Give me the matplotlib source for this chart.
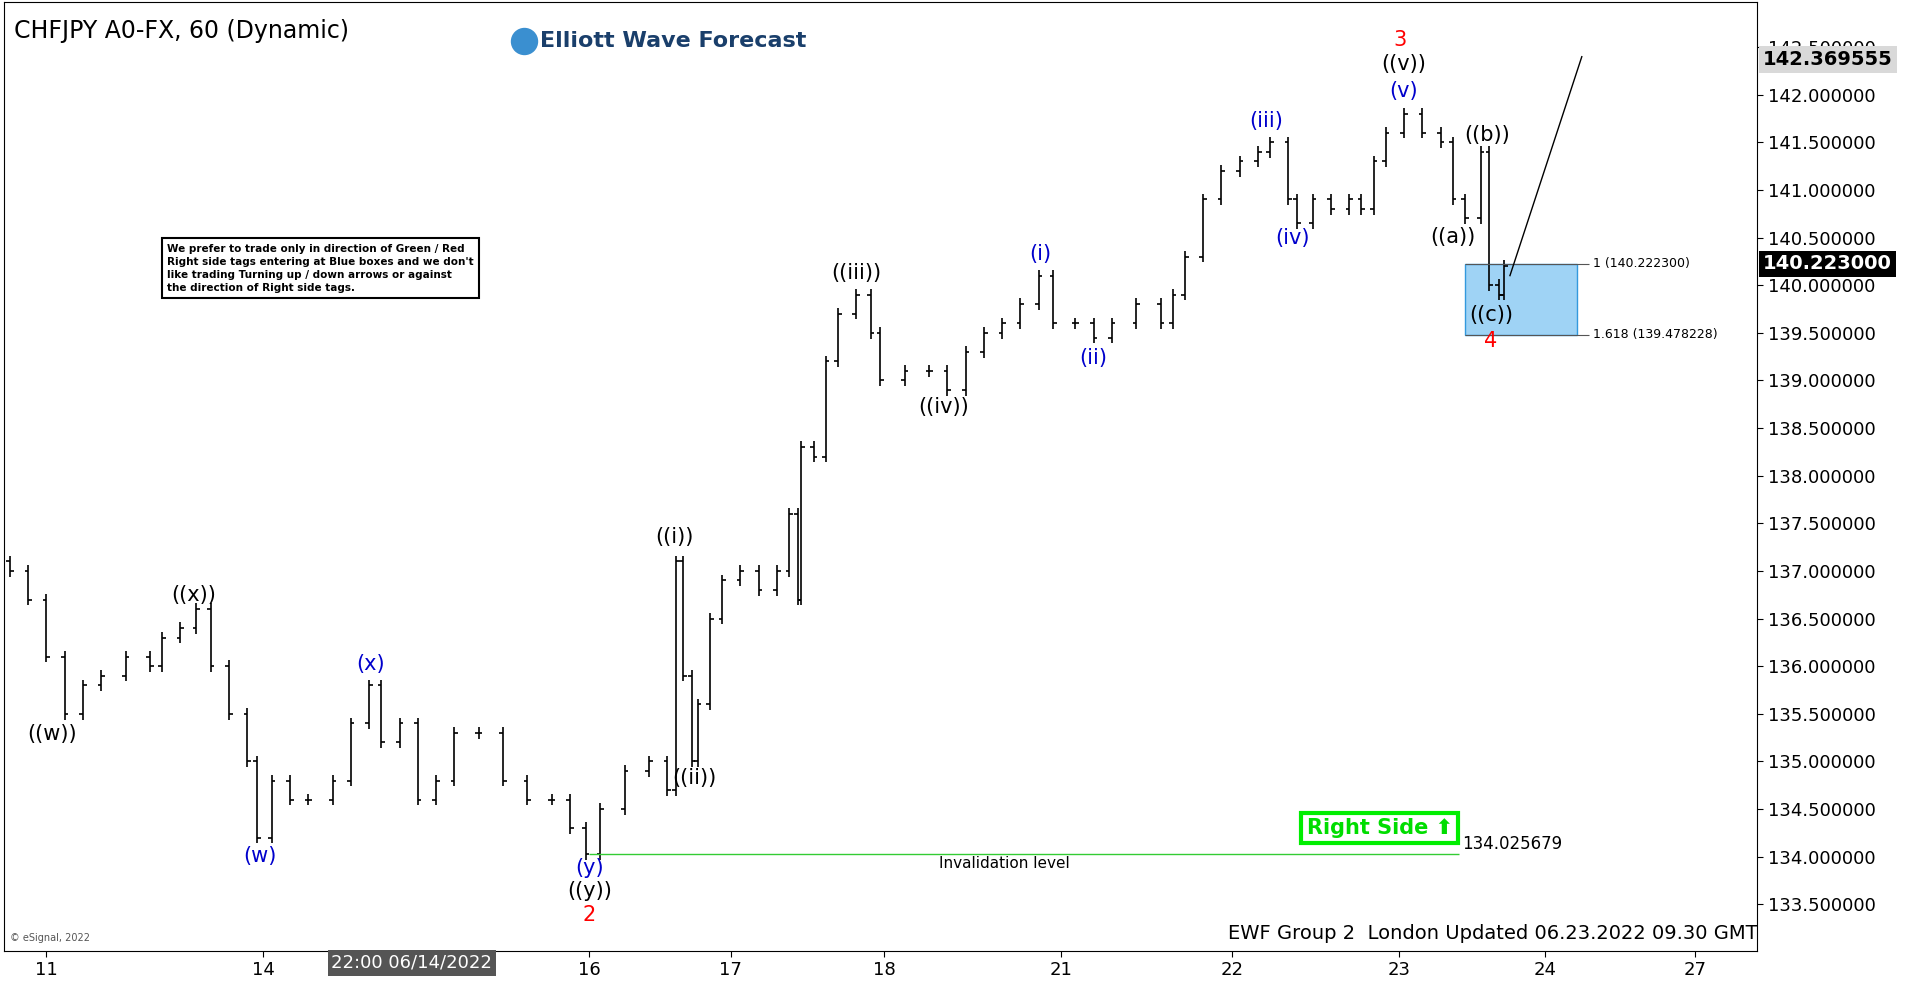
import matplotlib
matplotlib.use("Agg")
import matplotlib.pyplot as plt
from matplotlib.patches import Rectangle

# time axis in chart units (screen position of each hourly bar)
t = [5,20,35,50,65,80,100,120,130,145,158,170,185,200,208,220,235,250,270,285,300,310,325,340,355,370,390,
     410,430,450,465,478,490,510,530,545,552,558,565,570,580,590,605,620,635,645,652,655,665,675,685,700,712,
     720,740,760,775,790,805,820,835,850,862,880,895,910,930,950,960,970,985,1000,1015,1030,1040,1055,1062,
     1075,1090,1105,1115,1125,1135,1150,1165,1180,1190,1200,1213,1220,1228,1232]
close = [137.0,136.7,136.1,135.5,135.8,135.9,136.1,136.0,136.3,136.4,136.6,136.0,135.5,135.0,134.2,134.8,134.6,
         134.6,134.8,135.4,135.8,135.2,135.4,134.6,134.8,135.3,135.3,134.8,134.6,134.6,134.3,134.03,134.5,134.9,
         135.0,134.7,137.1,135.9,135.0,135.6,136.5,136.9,137.0,136.8,137.0,137.6,136.7,138.3,138.2,139.2,139.7,
         139.9,139.5,139.0,139.1,139.1,138.9,139.3,139.5,139.6,139.8,140.1,139.6,139.6,139.45,139.6,139.8,139.6,
         139.9,140.3,140.9,141.2,141.3,141.4,141.5,140.9,140.65,140.9,140.8,140.9,140.8,141.3,141.6,141.8,141.6,
         141.5,140.9,140.7,141.4,140.0,139.9,140.2]
yticks = [133.5+0.5*i for i in range(19)]
xtick_pos = [35,213,481,597,723,868,1009,1146,1266,1389]
xtick_lab = ["11","14","16","17","18","21","22","23","24","27"]

def py(ypx):
    return 133.5 + (742 - ypx) / 78.33

fig = plt.figure(figsize=(19.12, 9.81), dpi=100)
fig.patch.set_facecolor("white")
ax = fig.add_axes([0.002, 0.031, 0.917, 0.967])
ax.set_xlim(0, 1440)
ax.set_ylim(py(780), py(0))
ax.yaxis.tick_right()
ax.set_yticks(yticks)
ax.set_yticklabels([f"{v:.6f}" for v in yticks], fontsize=13)
ax.set_xticks(xtick_pos)
ax.set_xticklabels(xtick_lab, fontsize=13)
ax.tick_params(length=4)

opens = [close[0] + 0.1] + close[:-1]
for x, o, c in zip(t, opens, close):
    hi = max(o, c) + 0.06
    lo = min(o, c) - 0.06
    ax.vlines(x, lo, hi, color="black", lw=1.2)
    ax.hlines(o, x - 3, x, color="black", lw=1.2)
    ax.hlines(c, x, x + 3, color="black", lw=1.2)

labels = [("((w))",40,602,"black"),("((x))",156,488,"black"),("(w)",210,702,"#0000cc"),("(x)",301,544,"#0000cc"),
          ("(y)",481,712,"#0000cc"),("((y))",481,731,"black"),("2",481,751,"red"),("((i))",551,440,"black"),
          ("((ii))",567,638,"black"),("((iii))",700,223,"black"),("((iv))",772,333,"black"),("(i)",851,207,"#0000cc"),
          ("(ii)",895,293,"#0000cc"),("(iii)",1037,98,"#0000cc"),("(iv)",1058,194,"#0000cc"),("(v)",1150,73,"#0000cc"),
          ("((v))",1150,51,"black"),("3",1147,31,"red"),("((a))",1190,193,"black"),("((b))",1218,109,"black"),
          ("((c))",1222,257,"black"),("4",1221,279,"red")]
for s, x, y, col in labels:
    ax.text(x, py(y), s, color=col, fontsize=15, ha="center", va="center")

ax.add_patch(Rectangle((1200, 139.478228), 92, 140.2223 - 139.478228, facecolor="#9fd3f5", edgecolor="#3399dd"))
ax.hlines([140.2223, 139.478228], 1200, 1302, color="#555555", lw=0.8)
ax.text(1305, 140.2223, "1 (140.222300)", fontsize=9, va="center")
ax.text(1305, 139.478228, "1.618 (139.478228)", fontsize=9, va="center")
ax.plot([1237, 1296], [py(225), py(45)], color="black", lw=1)
ax.hlines(134.025679, 481, 1195, color="#33cc33", lw=1)
ax.text(822, py(708), "Invalidation level", fontsize=11, ha="center", va="center")
ax.text(1198, py(692), "134.025679", fontsize=12, va="center")
ax.text(1130, py(679), "Right Side ⬆", fontsize=15, color="#00dd00", fontweight="bold", ha="center", va="center",
        bbox=dict(boxstyle="square,pad=0.25", facecolor="white", edgecolor="#00ee00", lw=3))

ax.text(8, py(24), "CHFJPY A0-FX, 60 (Dynamic)", fontsize=17, va="center")
ax.text(440, py(32), "Elliott Wave Forecast", fontsize=16, color="#1a3f6b", fontweight="bold", va="center")
ax.scatter([427], [py(32)], s=350, color="#3a8fd0", zorder=3)
ax.text(134, py(219), "We prefer to trade only in direction of Green / Red\nRight side tags entering at Blue boxes and we don't\n"
        "like trading Turning up / down arrows or against\nthe direction of Right side tags.", fontsize=7.5,
        fontweight="bold", va="center", linespacing=1.4,
        bbox=dict(boxstyle="square,pad=0.5", facecolor="white", edgecolor="black", lw=1.5))
ax.text(1440, py(766), "EWF Group 2  London Updated 06.23.2022 09.30 GMT", fontsize=14, ha="right", va="center")
ax.text(5, py(770), "© eSignal, 2022", fontsize=7, va="center", color="#555555")
ax.text(335, py(0) - (py(0) - py(780)) * 1.013, "22:00 06/14/2022", fontsize=13, color="white", ha="center", va="center",
        bbox=dict(boxstyle="square,pad=0.2", facecolor="#555555", edgecolor="none"), clip_on=False)

for val, fc, tc, txt in [(140.223, "black", "white", "140.223000"), (142.369555, "#d9d9d9", "black", "142.369555")]:
    ax.text(1445, val, txt, fontsize=14, color=tc, va="center", ha="left", fontweight="bold", zorder=5,
            bbox=dict(boxstyle="square,pad=0.2", facecolor=fc, edgecolor="none"), clip_on=False)

fig.savefig("out.png", dpi=100)
